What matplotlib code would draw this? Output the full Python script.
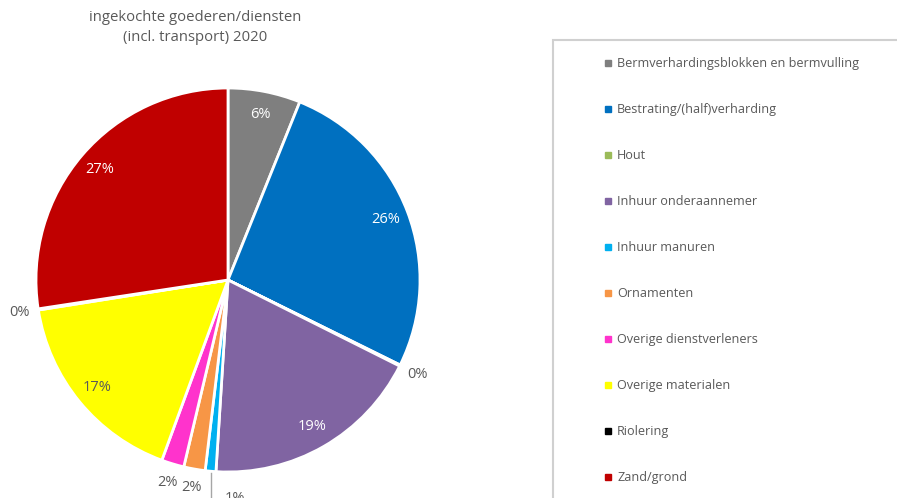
import numpy as np
import matplotlib
matplotlib.use('Agg')
import matplotlib.pyplot as plt
from matplotlib.patches import Rectangle

plt.rcParams['font.family'] = ['Open Sans', 'DejaVu Sans']

# slice data, clockwise from 12 o'clock
categories = ['Bermverhardingsblokken en bermvulling', 'Bestrating/(half)verharding',
              'Hout', 'Inhuur onderaannemer', 'Inhuur manuren', 'Ornamenten',
              'Overige dienstverleners', 'Overige materialen', 'Riolering', 'Zand/grond']
shares = [6.1, 26.2, 0.1, 18.6, 0.9, 1.8, 1.9, 16.9, 0.1, 27.4]
colors = ['#7F7F7F', '#0070C0', '#9BBB59', '#8064A2', '#00B0F0', '#F79646',
          '#FF33CC', '#FFFF00', '#000000', '#C00000']
title_lines = ['ingekochte goederen/diensten', '(incl. transport) 2020']

W, H = 897, 498
fig = plt.figure(figsize=(W / 100, H / 100), dpi=100)
ax = fig.add_axes([0, 0, 1, 1])

cx, cy, R = 228, H - 280, 192
wedges, _ = ax.pie(shares, colors=colors, startangle=90, counterclock=False,
                   center=(cx, cy), radius=R,
                   wedgeprops=dict(edgecolor='white', linewidth=2))
ax.set_xlim(0, W)
ax.set_ylim(0, H)
ax.set_aspect('auto')
ax.axis('off')

txt_gray = '#595959'
fs = 10.5
for w, v in zip(wedges, shares):
    mid = np.deg2rad((w.theta1 + w.theta2) / 2)
    lab = '%.0f%%' % v
    if v >= 5:
        r = 0.88 * R
        col = txt_gray if w.get_facecolor()[:3] == (1.0, 1.0, 0.0) else 'white'
        ax.text(cx + r * np.cos(mid), cy + r * np.sin(mid), lab, ha='center',
                va='center', fontsize=fs, color=col)
    elif v >= 1.5 or v < 0.5:
        r = 1.1 * R
        ax.text(cx + r * np.cos(mid), cy + r * np.sin(mid), lab, ha='center',
                va='center', fontsize=fs, color=txt_gray)
    else:
        # small slice with a leader line, label pushed aside
        x0, y0 = cx + R * np.cos(mid), cy + R * np.sin(mid)
        ax.plot([x0, x0], [y0 - 2, -5], color='#A6A6A6', lw=1)
        ax.text(x0 + 24, cy - 1.14 * R, lab, ha='center', va='center',
                fontsize=fs, color=txt_gray)

for i, t in enumerate(title_lines):
    ax.text(195, H - 17 - 20 * i, t, ha='center', va='center', fontsize=10.7,
            color=txt_gray)

# legend box
ax.add_patch(Rectangle((553, -20), 400, H - 40 + 20, fill=False,
                       edgecolor='#D0D0D0', lw=1.5))
for i, (c, col) in enumerate(zip(categories, colors)):
    y = H - 63 - 46 * i
    ax.plot([608], [y], marker='s', ms=4.5, color=col, ls='none')
    ax.text(617, y, c, ha='left', va='center', fontsize=9.1, color=txt_gray)

fig.savefig('out.png', dpi=100)
